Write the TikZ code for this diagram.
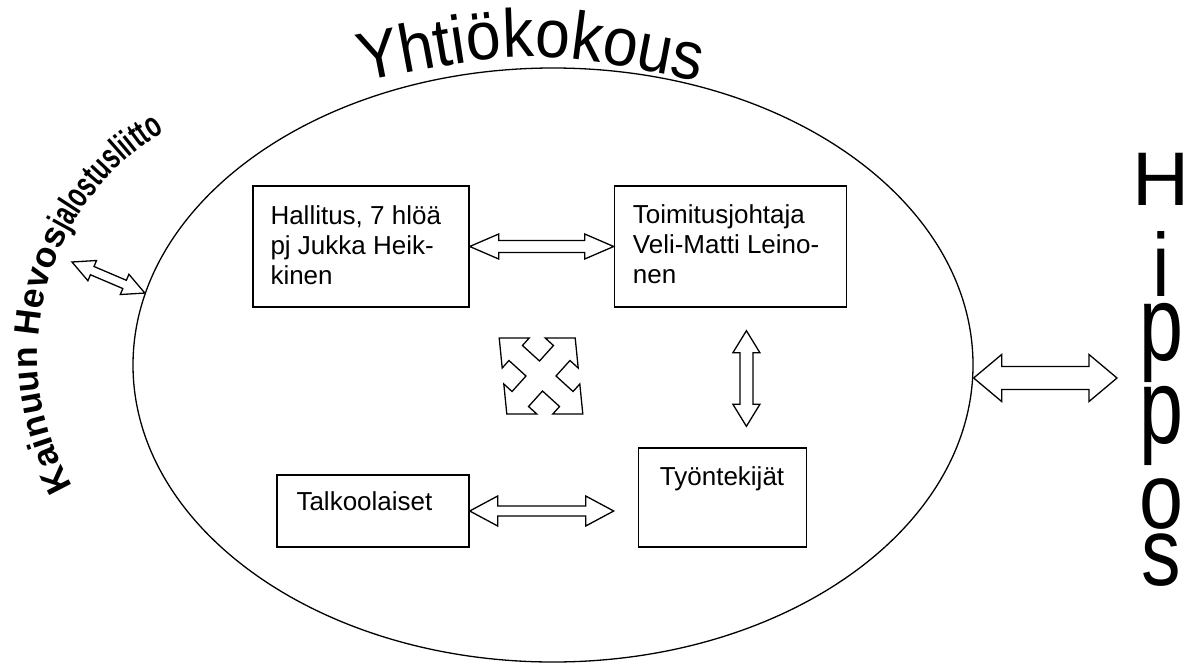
\documentclass[tikz,border=0pt]{standalone}
\usepackage{fontspec}
\usepackage{graphicx}
\setmainfont{Liberation Sans}
\newfontfamily\titlefont[FakeStretch=0.92]{Liberation Sans}
\newfontfamily\khlfont{Liberation Sans Bold}
\newfontfamily\khlnarrow[FakeStretch=0.66]{Liberation Sans Bold}
\usetikzlibrary{positioning, shapes.geometric, calc, decorations.text}

\tikzstyle{box} = [rectangle, draw, line width=1.4pt, inner sep=0pt]
\tikzstyle{boxtext} = [align=left, inner sep=0pt, anchor=north west,
    font=\fontsize{26}{30}\selectfont]
\tikzstyle{ring} = [ellipse, draw, line width=1.3pt, inner sep=0pt,
    minimum width=840pt, minimum height=594pt]
\tikzstyle{blockarrow} = [draw, fill=white, line width=1.3pt, line join=miter]
\tikzstyle{hipletter} = [inner sep=0pt, anchor=base, font=\fontsize{76}{76}\selectfont]

% hollow two-headed arrow: from, to, head length, head half width, shaft half width
\newcommand{\dblarrow}[5]{%
  \path ($(#1)!#3!(#2)$) coordinate (da) ($(#2)!#3!(#1)$) coordinate (db);
  \draw[blockarrow] (#1)
    -- ($(da)!#4!90:(#2)$) -- ($(da)!#5!90:(#2)$)
    -- ($(db)!#5!-90:(#1)$) -- ($(db)!#4!-90:(#1)$)
    -- (#2)
    -- ($(db)!#4!90:(#1)$) -- ($(db)!#5!90:(#1)$)
    -- ($(da)!#5!-90:(#2)$) -- ($(da)!#4!-90:(#2)$)
    -- cycle;}

\begin{document}
\begin{tikzpicture}[x=1pt, y=-1pt]
\useasboundingbox (0,0) rectangle (1188,664);

% Nodes
\node [ring] (kokous) at (553,365) {};

\node [box, minimum width=216pt, minimum height=121pt] (hall) at (361,246.5) {};
\node [box, minimum width=232pt, minimum height=121pt, right=144pt of hall] (toim) {};
\node [box, minimum width=192pt, minimum height=72pt] (talk) at (373,511) {};
\node [box, minimum width=168pt, minimum height=99pt,
       right=168pt of talk.south east, anchor=south west] (tyo) {};

\node [boxtext] (hallTxt) at ([shift={(18,20.5)}]hall.north west)
    {Hallitus, 7 hlöä\\pj Jukka Heik-\\kinen};
\node [boxtext] (toimTxt) at ([shift={(19,19)}]toim.north west)
    {Toimitusjohtaja\\Veli-Matti Leino-\\nen};
\node [boxtext] (talkTxt) at ([shift={(20,17)}]talk.north west) {Talkoolaiset};
\node [boxtext] (tyoTxt) at ([shift={(22,19)}]tyo.north west) {Työntekijät};

% Hippos, one letter under the other, all of about the same height
\foreach \c/\yb/\ys [count=\k] in {H/205/1, i/296/1.18, p/360/1.4,
                                   p/443/1.4, o/528/1.22, s/585/1.27}
    \node [hipletter] (hip\k) at (1161,\yb) {\scalebox{1.04}[\ys]{\c}};

% Titles on arcs
\path [decorate, decoration={text along path, text align=center,
    text={|\titlefont\fontsize{68}{68}\selectfont|Yhtiökokous}}]
    (350,84) .. controls (531,48) .. (712,84);
\path [decorate, decoration={text along path, text align={fit to path},
    text={|\khlfont\fontsize{35.5}{36}\selectfont|Kainuun Hevos}}]
    (72.6,486.1) arc [start angle=150, end angle=208, radius=261.1];
\path [decorate, decoration={text along path, text align={fit to path},
    text={|\khlnarrow\fontsize{36}{36}\selectfont|jalostusliitto}}]
    (68.2,232.9) arc [start angle=208, end angle=239, radius=261.1];

% Connections
\coordinate (khl) at (72,262);
\coordinate (vTop) at ($(toim.south)+(16,23)$);
\coordinate (vBot) at ($(tyo.north)+(24,-21)$);
\coordinate (talkEnd) at ($(talk.east)+(144,0)$);
\coordinate (ringE) at ($(kokous.east)+(0,13)$);
\coordinate (hipEnd) at (1117,378);

\dblarrow{hall.east}{toim.west}{29pt}{12.5pt}{6pt}
\dblarrow{vTop}{vBot}{22pt}{13.5pt}{6.5pt}
\dblarrow{talk.east}{talkEnd}{28pt}{15pt}{5pt}
\dblarrow{ringE}{hipEnd}{28pt}{23.5pt}{11.5pt}
\dblarrow{khl}{kokous.170}{22pt}{11pt}{4.5pt}

% four-way arrow in the middle
\begin{scope}[shift={(541,376)}, xslant=-0.1]
\draw [blockarrow] (0,-15) -- (15.5,-30.5) -- (8,-38) -- (38,-38) -- (38,-8) -- (30.5,-15.5)
    -- (15,0) -- (30.5,15.5) -- (38,8) -- (38,38) -- (8,38) -- (15.5,30.5)
    -- (0,15) -- (-15.5,30.5) -- (-8,38) -- (-38,38) -- (-38,8) -- (-30.5,15.5)
    -- (-15,0) -- (-30.5,-15.5) -- (-38,-8) -- (-38,-38) -- (-8,-38) -- (-15.5,-30.5)
    -- cycle;
\end{scope}

\end{tikzpicture}
\end{document}
